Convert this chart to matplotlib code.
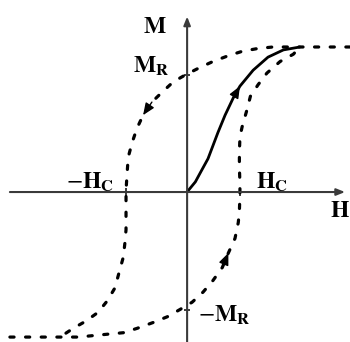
import matplotlib
matplotlib.use("Agg")
import matplotlib.pyplot as plt

# ===== 設定 =====
FIG_SIZE = (3.5, 3.42)
DPI = 100
FONT_SIZE = 17
DASH = (0, (1.3, 3.6))

# ===== データ (H, M: M_sat = 1) =====
# 減少ブランチ (右上 -> 左下)
down_H = [2.96, 2.42, 2.11, 1.84, 1.56, 1.29, 1.00, 0.75, 0.47, 0.24, -0.02,
          -0.25, -0.45, -0.64, -0.80, -0.91, -1.00, -1.07, -1.09, -1.11, -1.11,
          -1.11, -1.13, -1.16, -1.24, -1.31, -1.45, -1.62, -1.84, -2.07, -2.27]
down_M = [1.00, 1.00, 1.00, 1.00, 1.00, 0.99, 0.97, 0.94, 0.90, 0.86, 0.81,
          0.76, 0.69, 0.62, 0.53, 0.44, 0.34, 0.24, 0.13, 0.01, -0.12,
          -0.26, -0.35, -0.45, -0.56, -0.66, -0.75, -0.83, -0.89, -0.94, -0.99]

# 増加ブランチ (左下 -> 右上)
up_H = [-3.22, -2.82, -2.27, -1.98, -1.71, -1.44, -1.16, -0.91, -0.62, -0.36,
        -0.13, 0.09, 0.29, 0.47, 0.64, 0.75, 0.87, 0.93, 0.95, 0.96, 0.96,
        0.95, 0.95, 0.96, 1.00, 1.09, 1.15, 1.29, 1.45, 1.69, 1.93, 2.05]
up_M = [-1.00, -1.00, -1.00, -1.00, -0.99, -0.98, -0.97, -0.94, -0.90, -0.86,
        -0.81, -0.76, -0.69, -0.61, -0.52, -0.42, -0.32, -0.21, -0.13, -0.02, 0.06,
        0.17, 0.27, 0.38, 0.45, 0.57, 0.66, 0.74, 0.82, 0.90, 0.95, 1.00]

# 初磁化曲線
virgin_H = [0.00, 0.02, 0.15, 0.25, 0.38, 0.47, 0.56, 0.69, 0.84, 0.96, 1.20,
            1.47, 1.75, 2.05]
virgin_M = [0.00, 0.01, 0.07, 0.14, 0.23, 0.32, 0.41, 0.53, 0.65, 0.73, 0.84,
            0.93, 0.98, 1.00]

# 特性値
HC_POS = 0.96
HC_NEG = -1.11
MR_POS = 0.81
MR_NEG = -0.81

# 軸の範囲
H_MIN, H_MAX = -3.22, 2.87
M_MIN, M_MAX = -1.05, 1.21

plt.rcParams["mathtext.fontset"] = "stix"
plt.rcParams["font.family"] = ["Liberation Serif", "DejaVu Serif"]

fig = plt.figure(figsize=FIG_SIZE, dpi=DPI)
ax = fig.add_axes([0, 0, 1, 1])
ax.set_xlim(-3.40, 2.96)
ax.set_ylim(-1.034, 1.324)
ax.axis("off")

axis_color = "#3a3a3a"
# 座標軸 (矢印付き)
ax.annotate("", xy=(H_MAX, 0), xytext=(H_MIN, 0),
            arrowprops=dict(arrowstyle="-|>,head_length=0.5,head_width=0.2",
                            color=axis_color, lw=1.5, shrinkA=0, shrinkB=0,
                            mutation_scale=10))
ax.annotate("", xy=(0, M_MAX), xytext=(0, M_MIN),
            arrowprops=dict(arrowstyle="-|>,head_length=0.5,head_width=0.2",
                            color=axis_color, lw=1.5, shrinkA=0, shrinkB=0,
                            mutation_scale=10))

# 目盛り
ax.plot([HC_NEG, HC_POS], [0, 0], ls="none", marker="|", ms=6, mew=1.4, color=axis_color)
ax.plot([0, 0], [MR_NEG, MR_POS], ls="none", marker="_", ms=5, mew=1.4, color=axis_color)

# ヒステリシス曲線
for hs, ms in [(down_H, down_M), (up_H, up_M)]:
    ax.plot(hs, ms, color="black", lw=2.3, linestyle=DASH,
            dash_capstyle="round", dash_joinstyle="round")
ax.plot(virgin_H, virgin_M, color="black", lw=2.0,
        solid_capstyle="round", solid_joinstyle="round")

# 曲線上の矢印
def curve_arrow(hs, ms, i):
    ax.annotate("", xy=(hs[i], ms[i]), xytext=(hs[i - 1], ms[i - 1]),
                arrowprops=dict(arrowstyle="-|>,head_length=0.6,head_width=0.25",
                                color="black", lw=1.0, shrinkA=0, shrinkB=0,
                                mutation_scale=12))

curve_arrow(down_H, down_M, 14)
curve_arrow(up_H, up_M, 15)
curve_arrow(virgin_H, virgin_M, 9)

# ラベル
txt = dict(fontsize=FONT_SIZE, ha="center", va="center", textcoords="offset points")
ax.annotate(r"$\mathbf{M}$", xy=(0, M_MAX), xytext=(-23, -8), **txt)
ax.annotate(r"$\mathbf{M}_\mathbf{R}$", xy=(0, MR_POS), xytext=(-26, 6), **txt)
ax.annotate(r"$-\mathbf{M}_\mathbf{R}$", xy=(0, MR_NEG), xytext=(27, -4), **txt)
ax.annotate(r"$\mathbf{H}_\mathbf{C}$", xy=(HC_POS, 0), xytext=(23, 7), **txt)
ax.annotate(r"$-\mathbf{H}_\mathbf{C}$", xy=(HC_NEG, 0), xytext=(-26, 7), **txt)
ax.annotate(r"$\mathbf{H}$", xy=(H_MAX, 0), xytext=(-4, -14), **txt)

fig.savefig("out.png", dpi=DPI)
